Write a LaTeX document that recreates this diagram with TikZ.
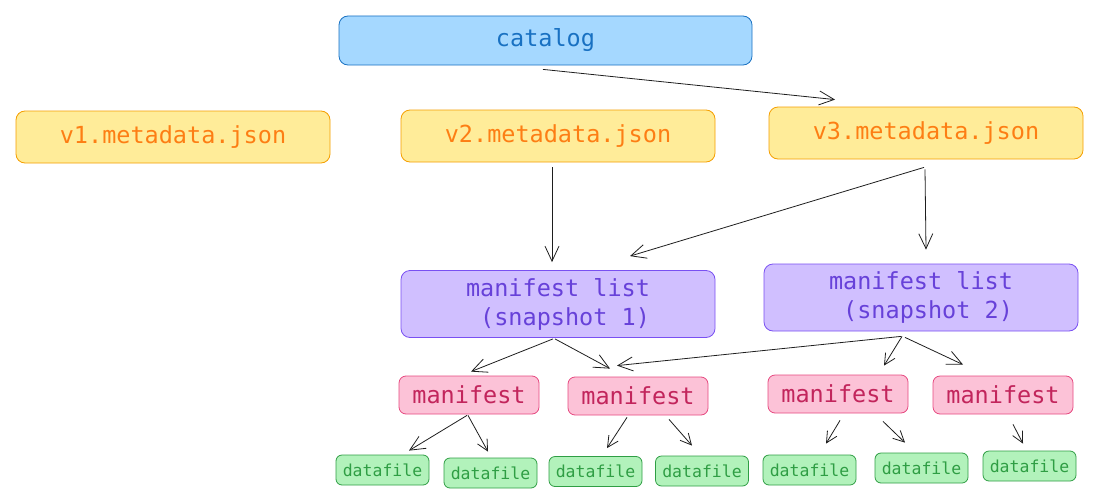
\documentclass[tikz,border=0pt]{standalone}
\usepackage{fontspec}
\setmonofont{DejaVu Sans Mono}
\usetikzlibrary{arrows.meta}
\definecolor{catfill}{HTML}{A5D8FF}
\definecolor{catline}{HTML}{1971C2}
\definecolor{metafill}{HTML}{FFEC99}
\definecolor{metaline}{HTML}{F59F00}
\definecolor{metatext}{HTML}{FD7E14}
\definecolor{listfill}{HTML}{D0BFFF}
\definecolor{listline}{HTML}{7950F2}
\definecolor{listtext}{HTML}{6741D9}
\definecolor{manfill}{HTML}{FCC2D7}
\definecolor{manline}{HTML}{E64980}
\definecolor{mantext}{HTML}{C2255C}
\definecolor{datafill}{HTML}{B2F2BB}
\definecolor{dataline}{HTML}{2F9E44}
\definecolor{ink}{HTML}{1E1E1E}
\begin{document}
\begin{tikzpicture}[x=1pt, y=-1pt,
    box/.style={rectangle, rounded corners=9pt, line width=0.8pt, inner sep=0pt, font=\ttfamily\fontsize{23.5}{29}\selectfont},
    catbox/.style={box, fill=catfill, draw=catline, text=catline, minimum width=413pt, minimum height=49pt},
    metabox/.style={box, fill=metafill, draw=metaline, text=metatext, minimum width=314pt, minimum height=52pt},
    listbox/.style={box, fill=listfill, draw=listline, text=listtext, minimum width=314pt, minimum height=67pt, align=center},
    manbox/.style={box, rounded corners=7pt, fill=manfill, draw=manline, text=mantext, minimum width=140pt, minimum height=38pt},
    databox/.style={box, rounded corners=6pt, fill=datafill, draw=dataline, text=dataline, minimum width=93pt, minimum height=30pt, font=\ttfamily\fontsize{16.5}{20}\selectfont},
    arr/.style={-{Straight Barb[length=15pt, width=14pt, line width=0.8pt]}, line width=0.8pt, draw=ink},
    shortarr/.style={arr, -{Straight Barb[length=11pt, width=11pt, line width=0.8pt]}}]
    \useasboundingbox (0,0) rectangle (1094,495);

    \node[catbox] (catalog) at (545.5,40.5) {catalog};

    \node[metabox] (v1) at (173,137) {v1.metadata.json};
    \node[metabox] (v2) at (558,136) {v2.metadata.json};
    \node[metabox] (v3) at (926,133) {v3.metadata.json};

    \node[listbox] (list1) at (558,304) {manifest list\\\phantom{x}(snapshot 1)};
    \node[listbox] (list2) at (921,297.5) {manifest list\\\phantom{x}(snapshot 2)};

    \node[manbox] (man1) at (469,395) {manifest};
    \node[manbox] (man2) at (638,396) {manifest};
    \node[manbox] (man3) at (838,394) {manifest};
    \node[manbox] (man4) at (1003,395) {manifest};

    \node[databox] (data1) at (382.5,470) {datafile};
    \node[databox] (data2) at (490.5,473) {datafile};
    \node[databox] (data3) at (595.5,471.5) {datafile};
    \node[databox] (data4) at (702,471) {datafile};
    \node[databox] (data5) at (809.5,470) {datafile};
    \node[databox] (data6) at (921.5,468) {datafile};
    \node[databox] (data7) at (1029.5,466) {datafile};

    \draw[arr] ([xshift=-2.5pt,yshift=-4pt]catalog.south) -- ([xshift=-91pt,yshift=7pt]v3.north);
    \draw[arr] ([xshift=-6pt,yshift=-5pt]v2.south) -- ([xshift=-6pt,yshift=8pt]list1.north);
    \draw[arr] ([xshift=-2pt,yshift=-8pt]v3.south) -- ([xshift=72pt,yshift=14pt]list1.north);
    \draw[arr] ([xshift=-1pt,yshift=-10pt]v3.south) -- ([xshift=5pt,yshift=14pt]list2.north);

    \draw[arr] ([xshift=-5pt,yshift=-1pt]list1.south) -- ([xshift=2pt,yshift=4pt]man1.north);
    \draw[arr] ([xshift=-3pt,yshift=-1pt]list1.south) -- ([xshift=-28pt,yshift=8pt]man2.north);
    \draw[arr] ([xshift=-20pt,yshift=-5pt]list2.south) -- ([xshift=-21pt,yshift=11pt]man2.north);
    \draw[shortarr] ([xshift=-19pt,yshift=-5pt]list2.south) -- ([xshift=46pt,yshift=9pt]man3.north);
    \draw[arr] ([xshift=-16pt,yshift=-6pt]list2.south) -- ([xshift=-40pt,yshift=11pt]man4.north);

    \draw[arr] ([xshift=-2pt,yshift=-1pt]man1.south) -- ([xshift=26.5pt,yshift=4pt]data1.north);
    \draw[shortarr] ([xshift=-1pt,yshift=-1pt]man1.south) -- ([xshift=-2.5pt,yshift=6pt]data2.north);
    \draw[shortarr] ([xshift=-11pt,yshift=-2pt]man2.south) -- ([xshift=11.5pt,yshift=8pt]data3.north);
    \draw[shortarr] ([xshift=31pt,yshift=-4pt]man2.south) -- ([xshift=-10pt,yshift=10pt]data4.north);
    \draw[shortarr] ([xshift=2pt,yshift=-7pt]man3.south) -- ([xshift=16.5pt,yshift=11pt]data5.north);
    \draw[shortarr] ([xshift=45pt,yshift=-8pt]man3.south) -- ([xshift=-16.5pt,yshift=10pt]data6.north);
    \draw[shortarr] ([xshift=10pt,yshift=-10pt]man4.south) -- ([xshift=-6.5pt,yshift=7pt]data7.north);
\end{tikzpicture}
\end{document}
